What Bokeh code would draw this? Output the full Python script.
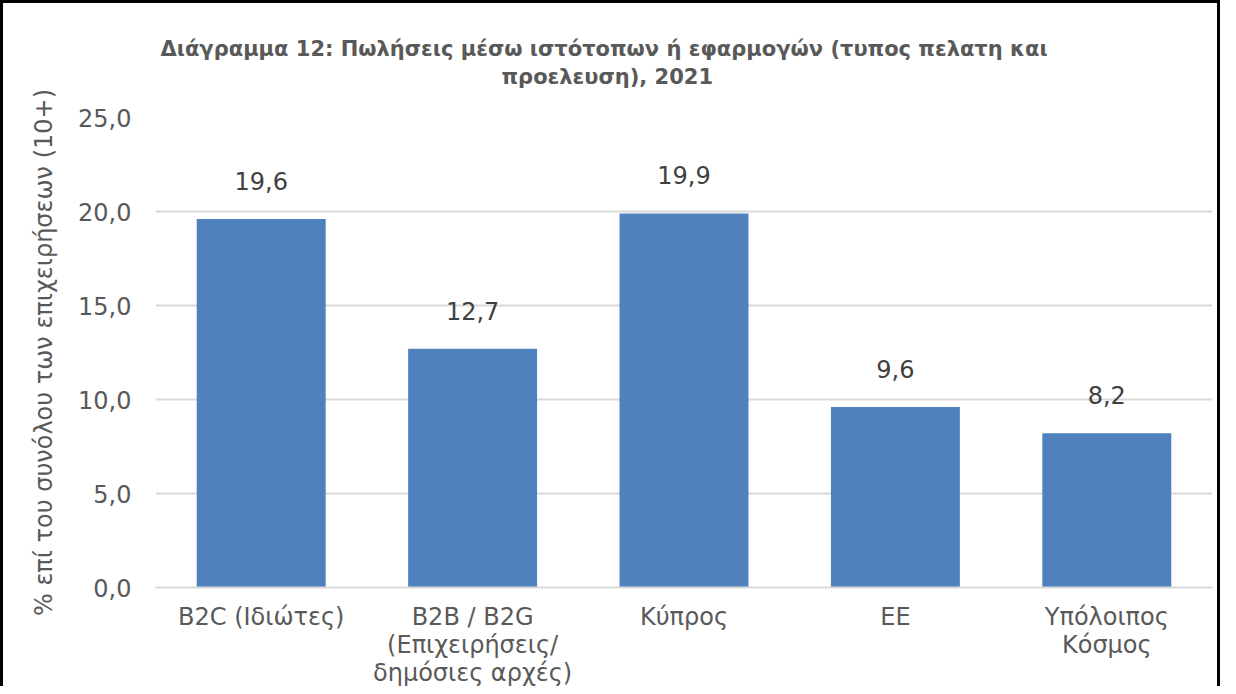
from bokeh.plotting import figure
from bokeh.models import ColumnDataSource, Range1d, CustomJSTickFormatter, Title
from bokeh.core.properties import value
from bokeh.embed import file_html
from bokeh.resources import INLINE

categories = ["B2C (Ιδιώτες)", "B2B / B2G\n(Επιχειρήσεις/\nδημόσιες αρχές)", "Κύπρος", "ΕΕ", "Υπόλοιπος\nΚόσμος"]
values = [19.6, 12.7, 19.9, 9.6, 8.2]
y_ticks = [0, 5, 10, 15, 20, 25]

title_line1 = "Διάγραμμα 12: Πωλήσεις μέσω ιστότοπων ή εφαρμογών (τυπος πελατη και"
title_line2 = "προελευση), 2021"
y_label = "% επί του συνόλου των επιχειρήσεων (10+)"

FONT = "DejaVu Sans"
TXT = "#595959"

labels = [f"{v:.1f}".replace(".", ",") for v in values]
src = ColumnDataSource(dict(cat=categories, val=values, lab=labels))

p = figure(x_range=categories, y_range=Range1d(0, 25), width=1220, height=686,
           output_backend="svg", toolbar_location=None,
           min_border_left=152, min_border_right=11, min_border_top=114, min_border_bottom=101)
p.styles = {"border": "3px solid black", "border-bottom": "none"}

p.vbar(x="cat", top="val", width=0.61, source=src, fill_color="#4F81BD", line_color=None)
p.text(x="cat", y="val", text="lab", source=src, text_align="center", text_baseline="alphabetic",
       y_offset=-38, text_font_size="24px", text_color="#404040", text_font=value(FONT))

# spacer between the frame and the two title lines
spacer = Title(text=" ", standoff=14, text_font=FONT, text_font_size="10px", text_color="white")
t2 = Title(text=title_line2, align="left", offset=346, standoff=4, text_line_height=0.8,
           text_font=FONT, text_font_size="21px", text_font_style="bold", text_color=TXT)
t1 = Title(text=title_line1, align="left", offset=5, standoff=0, text_line_height=0.8,
           text_font=FONT, text_font_size="21px", text_font_style="bold", text_color=TXT)
p.add_layout(spacer, "above")
p.add_layout(t2, "above")
p.add_layout(t1, "above")

p.yaxis.ticker = y_ticks
p.yaxis.formatter = CustomJSTickFormatter(code="return tick.toFixed(1).replace('.', ',');")
p.yaxis.axis_line_color = None
p.yaxis.major_tick_line_color = None
p.yaxis.minor_tick_line_color = None
p.yaxis.major_label_standoff = 18
p.yaxis.axis_label = y_label
p.yaxis.axis_label_standoff = 17
p.yaxis.axis_label_text_font = FONT
p.yaxis.axis_label_text_font_size = "24px"
p.yaxis.axis_label_text_font_style = "normal"
p.yaxis.axis_label_text_color = TXT

for ax in (p.xaxis, p.yaxis):
    ax.major_label_text_font = FONT
    ax.major_label_text_font_size = "24px"
    ax.major_label_text_color = TXT

p.xaxis.axis_line_color = "#d9d9d9"
p.xaxis.axis_line_width = 2
p.xaxis.major_tick_line_color = None
p.xaxis.minor_tick_line_color = None
p.xaxis.major_label_standoff = 9
p.xaxis.major_label_text_line_height = 1.0

p.xgrid.grid_line_color = None
p.ygrid.grid_line_color = "#d9d9d9"
p.ygrid.grid_line_width = 2
p.outline_line_color = None
p.x_range.range_padding = 0

open("out.html", "w").write(file_html(p, INLINE))
